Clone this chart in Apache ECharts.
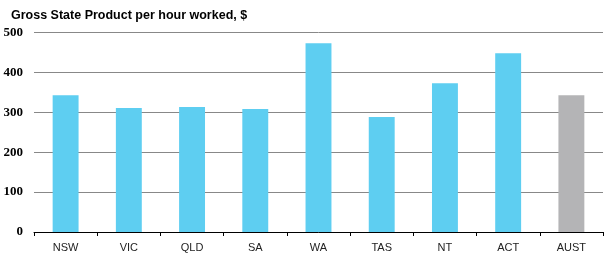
<!DOCTYPE html>
<html><head><meta charset="utf-8">
<script src="https://cdn.jsdelivr.net/npm/echarts@6/dist/echarts.min.js"></script>
<style>html,body{margin:0;padding:0;background:#fff}#c{width:605px;height:266px}</style>
</head><body><div id="c"></div>
<script>
const categories = ['NSW','VIC','QLD','SA','WA','TAS','NT','ACT','AUST'];
const values = [343, 311, 313, 308, 473, 288, 373, 448, 343];
const yTicks = [0, 100, 200, 300, 400, 500];
const titleText = 'Gross State Product per hour worked, $';

const chart = echarts.init(document.getElementById('c'), null, {renderer:'canvas'});
chart.setOption({
  animation:false,
  title:{text:titleText,left:6,top:4,textStyle:{fontFamily:'Liberation Sans',fontWeight:'bold',fontSize:12.5,color:'#000'}},
  grid:{left:34,right:2,top:32.5,bottom:34},
  xAxis:{type:'category',data:categories,
    axisLine:{lineStyle:{color:'#000',width:1}},
    axisTick:{show:true,length:4,lineStyle:{color:'#000'}},
    axisLabel:{fontFamily:'Liberation Sans',fontSize:11,color:'#222',margin:10}},
  yAxis:{type:'value',min:yTicks[0],max:yTicks[yTicks.length-1],interval:100,
    axisLine:{show:false},axisTick:{show:false},
    splitLine:{lineStyle:{color:'#888',width:1}},
    axisLabel:{fontFamily:'Liberation Serif',fontWeight:'bold',fontSize:13,color:'#000',margin:11}},
  series:[{type:'bar',barWidth:'41%',
    data:values.map((v,i)=>({value:v,itemStyle:{color:categories[i]==='AUST'?'#B4B4B6':'#5ECEF1'}}))}]
});
</script></body></html>
